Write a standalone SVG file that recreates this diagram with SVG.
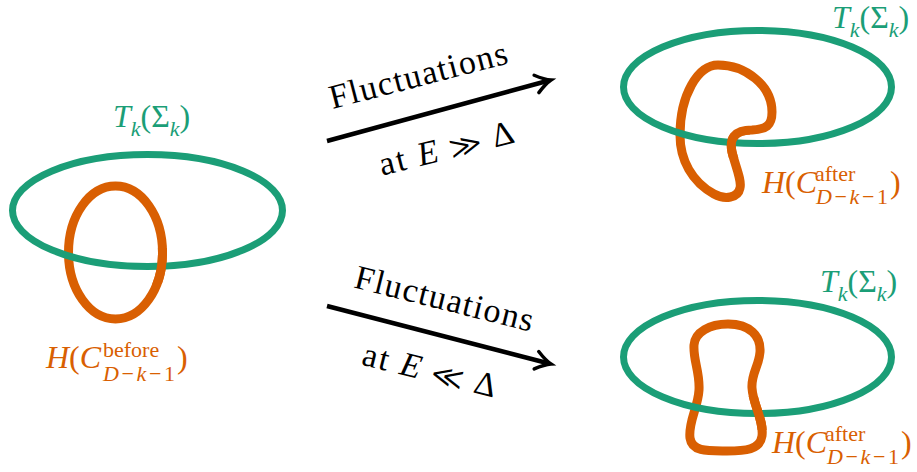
<svg xmlns="http://www.w3.org/2000/svg" width="917" height="472" viewBox="0 0 917 472">
<style>
.g{fill:none;stroke:#1b9e77;stroke-width:7}
.o{fill:none;stroke:#d95f02;stroke-width:9}
text{font-family:"Liberation Serif","Times New Roman",Tinos,"Noto Serif","DejaVu Serif",FreeSerif,serif}
.lg{fill:#1b9e77;font-size:32px}
.lo{fill:#d95f02;font-size:32px}
.it{font-style:italic}
.s{font-size:22px}
.t{fill:#000;font-size:34px}
.ar{fill:none;stroke:#000;stroke-width:4.5}
.ah{fill:none;stroke:#000;stroke-width:3.5;stroke-linecap:round}
</style>
<defs>
<clipPath id="c1"><rect x="145" y="248" width="35" height="36"/></clipPath>
<clipPath id="c2"><rect x="716" y="133" width="34" height="25"/></clipPath>
<clipPath id="c3"><rect x="740" y="396" width="35" height="34"/></clipPath>
</defs>

<g id="before">
  <ellipse class="o" cx="115.5" cy="252.5" rx="47" ry="66.5"/>
  <ellipse class="g" cx="147.5" cy="210.5" rx="135" ry="56"/>
  <ellipse class="o" cx="115.5" cy="252.5" rx="47" ry="66.5" clip-path="url(#c1)"/>
  <text class="lg" x="113" y="127" font-family="Liberation Serif, serif"><tspan class="it">T</tspan><tspan class="s it" dy="9">k</tspan><tspan dy="-9">(Σ</tspan><tspan class="s it" dy="9">k</tspan><tspan dy="-9">)</tspan></text>
  <text class="lo" x="46" y="368"><tspan class="it">H</tspan>(<tspan class="it">C</tspan><tspan class="s" x="103" y="357">before</tspan><tspan class="s" x="103" y="381" textLength="72"><tspan class="it">D</tspan>−<tspan class="it">k</tspan>−1</tspan><tspan x="177" y="368">)</tspan></text>
</g>

<g id="after-high">
  <path class="o" d="M 718 65 C 745 65, 772 85, 772 112 C 772 126, 766 129, 752 130 C 735 130, 729 138, 732 152 C 735 165, 742 180, 740 188 C 738 198, 725 200, 714 194 C 692 182, 680 160, 680 135 C 680 95, 698 65, 718 65 Z"/>
  <ellipse class="g" cx="757.5" cy="87" rx="134" ry="56.5"/>
  <path class="o" clip-path="url(#c2)" d="M 718 65 C 745 65, 772 85, 772 112 C 772 126, 766 129, 752 130 C 735 130, 729 138, 732 152 C 735 165, 742 180, 740 188 C 738 198, 725 200, 714 194 C 692 182, 680 160, 680 135 C 680 95, 698 65, 718 65 Z"/>
  <text class="lg" x="832" y="28"><tspan class="it">T</tspan><tspan class="s it" dy="9">k</tspan><tspan dy="-9">(Σ</tspan><tspan class="s it" dy="9">k</tspan><tspan dy="-9">)</tspan></text>
  <text class="lo" x="762" y="193"><tspan class="it">H</tspan>(<tspan class="it">C</tspan><tspan class="s" x="815" y="181">after</tspan><tspan class="s" x="816" y="204" textLength="72"><tspan class="it">D</tspan>−<tspan class="it">k</tspan>−1</tspan><tspan x="890" y="193">)</tspan></text>
</g>

<g id="after-low">
  <path class="o" d="M 728 324 C 750 324, 761 336, 760 352 C 759 366, 751 374, 752 388 C 753 405, 764 420, 762 436 C 760 450, 745 451, 727 451 C 708 451, 692 452, 690 438 C 688 422, 698 408, 699 390 C 700 372, 693 360, 694 345 C 695 332, 710 324, 728 324 Z"/>
  <ellipse class="g" cx="757.5" cy="357" rx="134" ry="56.5"/>
  <path class="o" clip-path="url(#c3)" d="M 728 324 C 750 324, 761 336, 760 352 C 759 366, 751 374, 752 388 C 753 405, 764 420, 762 436 C 760 450, 745 451, 727 451 C 708 451, 692 452, 690 438 C 688 422, 698 408, 699 390 C 700 372, 693 360, 694 345 C 695 332, 710 324, 728 324 Z"/>
  <text class="lg" x="820" y="292"><tspan class="it">T</tspan><tspan class="s it" dy="9">k</tspan><tspan dy="-9">(Σ</tspan><tspan class="s it" dy="9">k</tspan><tspan dy="-9">)</tspan></text>
  <text class="lo" x="772" y="453"><tspan class="it">H</tspan>(<tspan class="it">C</tspan><tspan class="s" x="825" y="441">after</tspan><tspan class="s" x="827" y="464" textLength="72"><tspan class="it">D</tspan>−<tspan class="it">k</tspan>−1</tspan><tspan x="901" y="453">)</tspan></text>
</g>

<g id="connectors">
  <g id="arrow-high">
    <line class="ar" x1="327" y1="141" x2="549" y2="80.5"/>
    <path class="ah" transform="translate(551,80) rotate(-15.2)" d="M -15 -9 Q -6 -2 0 0 Q -6 2 -15 9"/>
    <text class="t" text-anchor="middle" transform="translate(421,86) rotate(-14.5)" textLength="183">Fluctuations</text>
    <text class="t" text-anchor="middle" transform="translate(449,159) rotate(-14)" textLength="138">at <tspan class="it">E</tspan> ≫ Δ</text>
  </g>
  <g id="arrow-low">
    <line class="ar" x1="327" y1="306" x2="549" y2="363.5"/>
    <path class="ah" transform="translate(551,364) rotate(14.5)" d="M -15 -9 Q -6 -2 0 0 Q -6 2 -15 9"/>
    <text class="t" text-anchor="middle" transform="translate(441.5,309.5) rotate(14)" textLength="183">Fluctuations</text>
    <text class="t" text-anchor="middle" transform="translate(427,381) rotate(14)" textLength="137">at <tspan class="it">E</tspan> ≪ Δ</text>
  </g>
</g>
</svg>
